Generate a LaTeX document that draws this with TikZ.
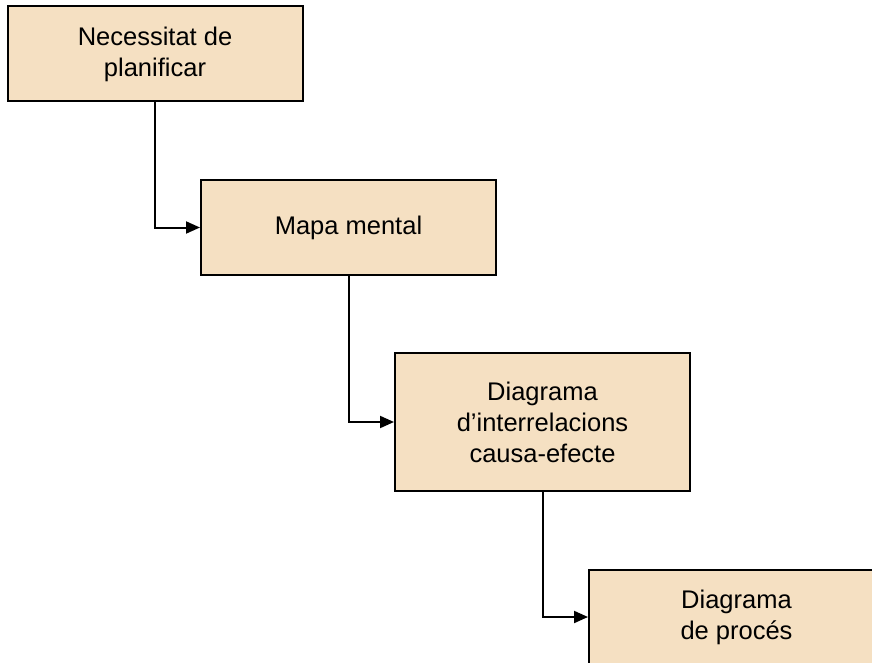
\documentclass[tikz,border=0pt]{standalone}
\usepackage{fontspec}
\setmainfont{Liberation Sans}
\usetikzlibrary{arrows.meta}
\definecolor{boxfill}{RGB}{245,224,194}
\tikzset{
  stepbox/.style={draw=black, fill=boxfill, line width=2pt, inner sep=0pt,
    minimum width=295pt, align=center, font=\fontsize{25.5}{31}\selectfont},
  link/.style={line width=2pt, -{Triangle[length=14pt,width=12pt]}}
}
\begin{document}
\begin{tikzpicture}[x=1pt,y=-1pt]
\path[use as bounding box, clip] (0,0) rectangle (872,663);
\node[stepbox, minimum height=95pt] (n1) at (155,54) {Necessitat de\\planificar};
\node[stepbox, minimum height=95pt] (n2) at (348.5,227.5) {Mapa mental};
\node[stepbox, minimum height=138pt] (n3) at (542.5,422) {Diagrama\\d’interrelacions\\causa-efecte};
\node[stepbox, minimum height=95pt] (n4) at (736.5,617) {Diagrama\\de procés};
\draw[link] (n1.south) |- (n2.west);
\draw[link] (n2.south) |- (n3.west);
\draw[link] (n3.south) |- (n4.west);
\end{tikzpicture}
\end{document}
